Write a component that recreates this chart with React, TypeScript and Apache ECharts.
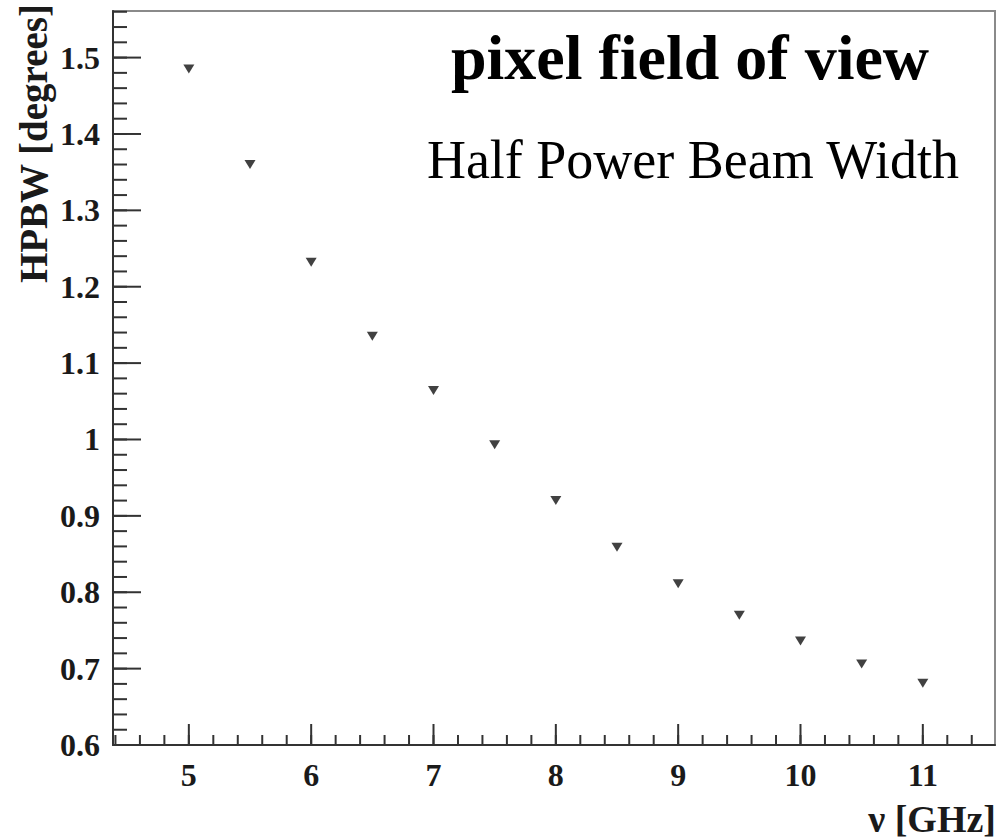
import React, { useEffect, useRef } from "react";
import * as echarts from "echarts";

// Frequency (GHz) and half power beam width (degrees)
const frequencies = [5, 5.5, 6, 6.5, 7, 7.5, 8, 8.5, 9, 9.5, 10, 10.5, 11];
const hpbw = [1.485, 1.36, 1.232, 1.135, 1.064, 0.993, 0.92, 0.859, 0.811, 0.77, 0.736, 0.706, 0.681];

// Axis tick labels
const xTickLabels = [5, 6, 7, 8, 9, 10, 11];
const yTickLabels = [0.6, 0.7, 0.8, 0.9, 1.0, 1.1, 1.2, 1.3, 1.4, 1.5];

const X_MIN = 4.38;
const X_MAX = 11.59;
const Y_MIN = 0.6;
const Y_MAX = 1.561;

const title = "pixel field of view";
const subtitle = "Half Power Beam Width";
const xName = "ν [GHz]";
const yName = "HPBW [degrees]";

function minorTicks(start: number, end: number, step: number): number[] {
  const out: number[] = [];
  const n = Math.round((end - start) / step);
  for (let i = 0; i <= n; i++) out.push(Math.round((start + i * step) * 1000) / 1000);
  return out;
}

const xMinor = minorTicks(4.4, 11.4, 0.2);
const yMinor = minorTicks(0.6, 1.56, 0.02);

const serif = "'Liberation Serif', 'DejaVu Serif', serif";
const ink = "#1a1a1a";
const tickColor = "#333";

// Inward tick marks drawn through the axis scales
function tickSeries(values: number[], dir: "x" | "y", length: number) {
  return {
    type: "custom",
    silent: true,
    clip: false,
    z: 5,
    data: values.map((v) => (dir === "x" ? [v, Y_MIN] : [X_MIN, v])),
    renderItem: (_params: any, api: any) => {
      const p = api.coord([api.value(0), api.value(1)]);
      const shape =
        dir === "x"
          ? { x1: p[0], y1: p[1], x2: p[0], y2: p[1] - length }
          : { x1: p[0], y1: p[1], x2: p[0] + length, y2: p[1] };
      return { type: "line", shape, style: { stroke: tickColor, lineWidth: 2 } };
    },
  };
}

export default function App() {
  const ref = useRef<HTMLDivElement>(null);

  useEffect(() => {
    if (!ref.current) return;
    const chart = echarts.init(ref.current, null, { renderer: "svg" });

    const fmt = (v: number) => String(parseFloat(Number(v).toFixed(2)));

    chart.setOption({
      animation: false,
      backgroundColor: "#ffffff",
      grid: {
        left: 113,
        top: 11,
        width: 882,
        height: 734,
        show: true,
        borderColor: "#8a8a8a",
        borderWidth: 2,
        backgroundColor: "transparent",
      },
      xAxis: {
        type: "value",
        min: X_MIN,
        max: X_MAX,
        splitLine: { show: false },
        axisLine: { show: true, onZero: false, lineStyle: { color: tickColor, width: 2 } },
        axisTick: { show: false },
        axisLabel: {
          show: true,
          customValues: xTickLabels,
          formatter: fmt,
          margin: 14,
          fontFamily: serif,
          fontWeight: "bold",
          fontSize: 32,
          color: ink,
        },
      },
      yAxis: {
        type: "value",
        min: Y_MIN,
        max: Y_MAX,
        splitLine: { show: false },
        axisLine: { show: true, onZero: false, lineStyle: { color: tickColor, width: 2 } },
        axisTick: { show: false },
        axisLabel: {
          show: true,
          customValues: yTickLabels,
          formatter: fmt,
          margin: 13,
          fontFamily: serif,
          fontWeight: "bold",
          fontSize: 32,
          color: ink,
        },
      },
      series: [
        tickSeries(xMinor, "x", 10),
        tickSeries(xTickLabels, "x", 21),
        tickSeries(yMinor, "y", 14),
        tickSeries(yTickLabels, "y", 28),
        {
          type: "scatter",
          data: frequencies.map((f, i) => [f, hpbw[i]]),
          symbol: "triangle",
          symbolRotate: 180,
          symbolSize: [11, 9],
          itemStyle: { color: "#111" },
          z: 6,
        },
      ],
      graphic: [
        {
          type: "text",
          x: 690,
          y: 57,
          style: {
            text: title,
            fill: "#000",
            font: `bold 64px ${serif}`,
            align: "center",
            verticalAlign: "middle",
          },
        },
        {
          type: "text",
          x: 693,
          y: 160,
          style: {
            text: subtitle,
            fill: "#000",
            font: `54px ${serif}`,
            align: "center",
            verticalAlign: "middle",
          },
        },
        {
          type: "text",
          x: 996,
          y: 819,
          style: {
            text: xName,
            fill: ink,
            font: `bold 38px ${serif}`,
            align: "right",
            verticalAlign: "middle",
          },
        },
        {
          type: "text",
          x: 33,
          y: 4,
          rotation: Math.PI / 2,
          style: {
            text: yName,
            fill: ink,
            font: `bold 39px ${serif}`,
            align: "right",
            verticalAlign: "middle",
          },
        },
      ],
    });

    return () => chart.dispose();
  }, []);

  return (
    <div
      ref={ref}
      style={{ position: "fixed", left: 0, top: 0, width: 998, height: 839, background: "#fff" }}
    />
  );
}
